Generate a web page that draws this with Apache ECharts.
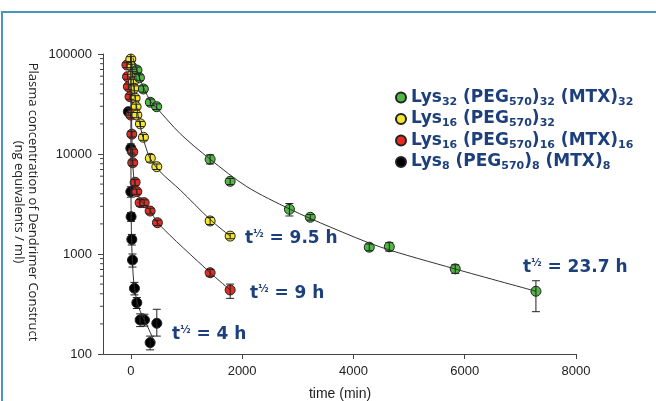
<!DOCTYPE html>
<html>
<head>
<meta charset="utf-8">
<title>Dendrimer plasma concentration</title>
<script src="https://cdn.jsdelivr.net/npm/echarts@6/dist/echarts.min.js"></script>
<style>
  html, body { margin: 0; padding: 0; background: #fff; }
  #chart { width: 656px; height: 401px; }
</style>
</head>
<body>
<div id="chart"></div>
<script>
// measured points (time in min, concentration in ng eq / ml)
var greenT = [110, 155, 225, 350, 465, 1425, 1785, 2850, 3225, 4285, 4645, 5830, 7280];
var greenC = [69000, 58000, 44700, 32900, 29700, 8850, 5330, 2800, 2330, 1170, 1180, 710, 424];
var greenLo = [64000, 54000, 41500, 30500, 27800, 7950, 4950, 2400, 2180, 1080, 1070, 640, 265];
var greenHi = [74000, 62000, 48000, 35500, 31700, 9800, 5700, 3200, 2480, 1260, 1300, 780, 540];

var yellowT = [0, 18, 35, 47, 60, 77, 95, 108, 173, 227, 350, 467, 1425, 1785];
var yellowC = [89000, 74700, 62700, 52800, 45400, 36100, 29700, 24500, 20000, 14700, 9060, 7470, 2140, 1510];
var yellowLo = [84000, 70500, 59000, 49800, 42800, 34000, 28000, 23000, 18800, 13700, 8300, 7000, 1970, 1420];
var yellowHi = [94000, 79000, 66500, 56000, 48000, 38300, 31500, 26000, 21200, 15700, 9900, 7950, 2320, 1600];

var redT = [-70, -60, -45, -15, 0, 18, 35, 35, 77, 108, 167, 240, 347, 478, 1425, 1785];
var redC = [77600, 59300, 47100, 37400, 24500, 15800, 10500, 8180, 5210, 4200, 3260, 3260, 2690, 2055, 650, 437];
var redLo = [73000, 56000, 44300, 35200, 23000, 14800, 9800, 7650, 4850, 3950, 3000, 3050, 2520, 1930, 600, 360];
var redHi = [82000, 62600, 50000, 39600, 26000, 16800, 11200, 8700, 5550, 4450, 3500, 3480, 2870, 2180, 700, 500];

var blackT = [-45, 0, 0, 5, 18, 30, 65, 108, 167, 245, 347, 467];
var blackC = [26500, 11400, 4200, 2360, 1400, 870, 454, 326, 219, 219, 130, 203];
var blackLo = [24500, 10200, 3700, 2120, 1230, 740, 390, 285, 188, 190, 110, 151];
var blackHi = [28500, 12600, 4700, 2600, 1570, 1000, 520, 367, 252, 250, 151, 280];

// fitted curves
var greenFitT = [40, 155, 347, 467, 886, 1426, 2086, 2864, 3584, 4483, 5831, 7282];
var greenFitC = [91000, 57900, 34000, 28800, 16000, 8850, 4710, 2800, 1860, 1175, 708, 424];
var yellowFitT = [0, 59, 113, 185, 257, 347, 527, 886, 1426, 1785];
var yellowFitC = [98000, 45400, 27500, 17400, 12300, 9060, 6650, 4370, 2210, 1510];
var redFitT = [0, 14, 32, 59, 113, 198, 347, 478, 1426, 1785];
var redFitC = [100000, 21900, 8710, 5500, 4070, 3330, 2750, 2055, 650, 437];
var blackFitT = [0, 4, 14, 32, 59, 137, 288, 424];
var blackFitC = [100000, 3470, 1380, 776, 490, 297, 195, 133];

var X_TICKS = [0, 2000, 4000, 6000, 8000];
var Y_MINOR = [200, 300, 400, 500, 600, 700, 800, 900,
  2000, 3000, 4000, 5000, 6000, 7000, 8000, 9000,
  20000, 30000, 40000, 50000, 60000, 70000, 80000, 90000];

var NAMES = ['g', 'y', 'r', 'k'];
var COLORS = { g: '#4fb843', y: '#f3e62c', r: '#e52b22', k: '#000000' };
var NAVY = '#1d3f7c';

var LABELS = {
  g: '{m|Lys}{s|32}{m| (PEG}{s|570}{m|)}{s|32}{m| (MTX)}{s|32}',
  y: '{m|Lys}{s|16}{m| (PEG}{s|570}{m|)}{s|32}',
  r: '{m|Lys}{s|16}{m| (PEG}{s|570}{m|)}{s|16}{m| (MTX)}{s|16}',
  k: '{m|Lys}{s|8}{m| (PEG}{s|570}{m|)}{s|8}{m| (MTX)}{s|8}'
};

function zip(a, b) {
  return a.map(function (v, i) { return [v, b[i]]; });
}
function zip3(a, b, c) {
  return a.map(function (v, i) { return [v, b[i], c[i]]; });
}

function renderErr(params, api) {
  var x = api.value(0);
  var pLo = api.coord([x, api.value(1)]);
  var pHi = api.coord([x, api.value(2)]);
  var w = 4;
  var st = { stroke: '#222', lineWidth: 1 };
  return {
    type: 'group',
    children: [
      { type: 'line', shape: { x1: pLo[0], y1: pLo[1], x2: pHi[0], y2: pHi[1] }, style: st },
      { type: 'line', shape: { x1: pLo[0] - w, y1: pLo[1], x2: pLo[0] + w, y2: pLo[1] }, style: st },
      { type: 'line', shape: { x1: pHi[0] - w, y1: pHi[1], x2: pHi[0] + w, y2: pHi[1] }, style: st }
    ]
  };
}

function renderMinor(params, api) {
  var p = api.coord([api.value(0), api.value(1)]);
  return {
    type: 'line',
    shape: { x1: p[0] - 3, y1: p[1], x2: p[0], y2: p[1] },
    style: { stroke: '#444', lineWidth: 1 }
  };
}

var series = [];
var pts = { g: [greenT, greenC, greenLo, greenHi], y: [yellowT, yellowC, yellowLo, yellowHi],
  r: [redT, redC, redLo, redHi], k: [blackT, blackC, blackLo, blackHi] };
var fits = { g: [greenFitT, greenFitC], y: [yellowFitT, yellowFitC],
  r: [redFitT, redFitC], k: [blackFitT, blackFitC] };

// draw black first so the coloured markers sit on top, like the reference
['k', 'r', 'y', 'g'].forEach(function (k, idx) {
  series.push({
    name: k, type: 'scatter', symbol: 'circle', symbolSize: 10, z: 2 + idx * 0.01,
    itemStyle: { color: COLORS[k], borderColor: '#222', borderWidth: 1, opacity: 1 },
    data: zip(pts[k][0], pts[k][1])
  });
});
NAMES.forEach(function (k) {
  series.push({
    name: k + '-fit', type: 'line', showSymbol: false, symbol: 'none', smooth: 0.3, z: 3,
    lineStyle: { color: '#333', width: 1 }, silent: true,
    data: zip(fits[k][0], fits[k][1])
  });
  series.push({
    name: k + '-err', type: 'custom', z: 4, silent: true,
    renderItem: renderErr, encode: { x: 0, y: [1, 2] },
    data: zip3(pts[k][0], pts[k][2], pts[k][3])
  });
});
series.push({
  name: 'minor', type: 'custom', z: 5, silent: true, clip: false,
  renderItem: renderMinor, encode: { x: 0, y: 1 },
  data: Y_MINOR.map(function (v) { return [-500, v]; })
});

function halfLife(str) {
  return '{t|t}{p|\u00bd}{t| = ' + str + '}';
}
var annoRich = {
  t: { fontFamily: 'DejaVu Sans', fontWeight: 'bold', fontSize: 17, color: NAVY, lineHeight: 20 },
  p: { fontFamily: 'DejaVu Sans', fontWeight: 'bold', fontSize: 10, color: NAVY, lineHeight: 20,
       verticalAlign: 'top', padding: [0, 0, 6, 0] }
};
function anno(x, y, str) {
  return {
    type: 'text', left: x, top: y - 10, z: 10,
    style: { text: halfLife(str), rich: annoRich, fill: NAVY }
  };
}

var chart = echarts.init(document.getElementById('chart'), null, { renderer: 'canvas' });
chart.setOption({
  animation: false,
  backgroundColor: '#ffffff',
  grid: { left: 103, right: 80, top: 54, bottom: 47, containLabel: false },
  legend: {
    data: NAMES, orient: 'vertical', left: 390, top: 84,
    itemWidth: 10, itemHeight: 10, itemGap: 3, icon: 'circle',
    selectedMode: false,
    formatter: function (n) { return LABELS[n]; },
    textStyle: {
      rich: {
        m: { fontFamily: 'DejaVu Sans', fontWeight: 'bold', fontSize: 17, color: NAVY, lineHeight: 20 },
        s: { fontFamily: 'DejaVu Sans', fontWeight: 'bold', fontSize: 11, color: NAVY, lineHeight: 12,
             verticalAlign: 'bottom' }
      }
    }
  },
  xAxis: {
    type: 'value', min: -500, max: 8000,
    splitLine: { show: false },
    axisLine: { show: true, onZero: false, lineStyle: { color: '#444', width: 1 } },
    axisTick: { show: true, length: 5, customValues: X_TICKS, lineStyle: { color: '#444' } },
    axisLabel: {
      customValues: X_TICKS, margin: 11, fontFamily: 'Liberation Sans', fontSize: 13, color: '#222',
      formatter: function (v) { return String(v); }
    }
  },
  yAxis: {
    type: 'log', logBase: 10, min: 100, max: 100000,
    splitLine: { show: false },
    axisLine: { show: true, onZero: false, lineStyle: { color: '#444', width: 1 } },
    axisTick: { show: true, length: 5, lineStyle: { color: '#444' } },
    axisLabel: {
      margin: 11, fontFamily: 'Liberation Sans', fontSize: 13, color: '#222',
      formatter: function (v) { return String(Math.round(v)); }
    }
  },
  graphic: [
    { type: 'rect', z: 0, silent: true,
      shape: { x: 2, y: 12, width: 720, height: 500 },
      style: { fill: 'none', stroke: '#4696bd', lineWidth: 2 } },
    { type: 'text', x: 26, y: 202, rotation: -Math.PI / 2, z: 10,
      style: { text: 'Plasma concentration of Dendrimer Construct\n(ng equivalents / ml)',
        fontFamily: 'Open Sans', fontSize: 13, lineHeight: 14, fill: '#222',
        align: 'center', verticalAlign: 'middle' } },
    { type: 'text', x: 340, y: 394, z: 10,
      style: { text: 'time (min)', fontFamily: 'Liberation Sans', fontSize: 14, fill: '#222',
        align: 'center', verticalAlign: 'middle' } },
    anno(245, 239, '9.5 h'),
    anno(250, 294, '9 h'),
    anno(172, 335, '4 h'),
    anno(523, 268, '23.7 h')
  ],
  series: series
});
</script>
</body>
</html>
